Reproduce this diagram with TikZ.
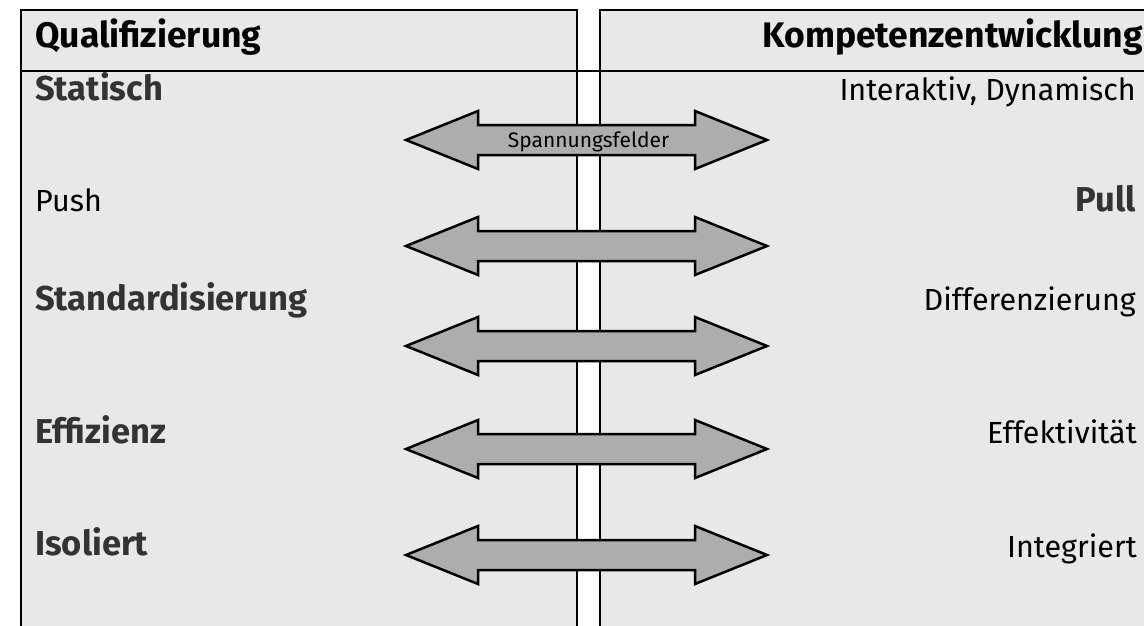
\documentclass[tikz,border=0pt]{standalone}
\usepackage{fontspec}
\setmainfont{Fira Sans}
\usetikzlibrary{calc}
\begin{document}
\begin{tikzpicture}[x=1pt,y=-1pt,
  panelfill/.style={fill=black!9},
  border/.style={draw=black,line width=2pt},
  hdr/.style={font=\fontsize{35.5}{38}\selectfont\bfseries,inner sep=0pt},
  lblbold/.style={font=\fontsize{34.5}{37}\selectfont\bfseries,text=black!80,inner sep=0pt},
  lblreg/.style={font=\fontsize{30.5}{33}\selectfont,text=black,inner sep=0pt},
  arrowshape/.style={draw=black,line width=2.5pt,fill=black!32,line join=miter},
  smalltxt/.style={font=\fontsize{21}{23}\selectfont,inner sep=0pt}
]
\useasboundingbox (0,0) rectangle (1144,626);
% panels
\fill[panelfill] (21,10) rectangle (577,626);
\fill[panelfill] (600,10) rectangle (1144,626);
\draw[border] (21,627) -- (21,10) -- (577,10) -- (577,627);
\draw[border] (1145,10) -- (600,10) -- (600,627);
\draw[border] (21,71) -- (1145,71);
% arrows
\foreach \n/\y in {a1/140,a2/246,a3/346,a4/449,a5/555}{
  \coordinate (\n) at (586.5,\y);
  \draw[arrowshape] ($(\n)+(-180.5,0)$) -- ++(72,-29) -- ++(0,14) -- ($(\n)+(108.5,-15)$)
     -- ++(0,-14) -- ($(\n)+(180.5,0)$) -- ++(-72,29) -- ++(0,-14) -- ($(\n)+(-108.5,15)$) -- ++(0,14) -- cycle;
}
\node[smalltxt,anchor=base] (spf) at ($(a1)+(2,7)$) {Spannungsfelder};
% headers
\node[hdr,anchor=base west] (hq) at (35,48) {Qualifizierung};
\node[hdr,anchor=base east] (hk) at (1143,48) {Kompetenzentwicklung};
% left labels
\node[lblbold,anchor=base west] (l1) at (35,101) {Statisch};
\node[lblreg,anchor=base west] (l2) at (35,211) {Push};
\node[lblbold,anchor=base west] (l3) at (35,310) {Standardisierung};
\node[lblbold,anchor=base west] (l4) at (35,443) {Effizienz};
\node[lblbold,anchor=base west] (l5) at (35,555) {Isoliert};
% right labels
\node[lblreg,anchor=base east] (r1) at (1136,101) {Interaktiv, Dynamisch};
\node[lblbold,anchor=base east] (r2) at (1136,211) {Pull};
\node[lblreg,anchor=base east] (r3) at (1136,310) {Differenzierung};
\node[lblreg,anchor=base east] (r4) at (1137,443) {Effektivität};
\node[lblreg,anchor=base east] (r5) at (1137,557) {Integriert};
\end{tikzpicture}
\end{document}
